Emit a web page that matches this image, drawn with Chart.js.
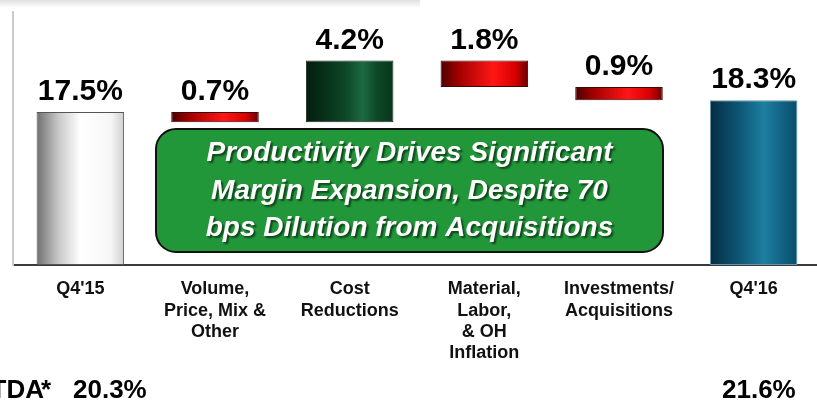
<!DOCTYPE html>
<html>
<head>
<meta charset="utf-8">
<script src="https://cdn.jsdelivr.net/npm/chart.js@4.4.1/dist/chart.umd.min.js"></script>
<style>
html, body { margin: 0; padding: 0; background: #fff; overflow: hidden; }
#wrap { position: relative; width: 825px; height: 400px; }
</style>
</head>
<body>
<div id="wrap"><canvas id="bridge"></canvas></div>
<script>
var categories = ["Q4'15", ["Volume,", "Price, Mix &", "Other"], ["Cost", "Reductions"],
                  ["Material,", "Labor,", "& OH", "Inflation"], ["Investments/", "Acquisitions"], "Q4'16"];
var changes = [17.5, -0.7, 4.2, -1.8, -0.9, 18.3];
var kinds = ['start', 'down', 'up', 'down', 'down', 'end'];
var ebitdaLabel = 'EBITDA';
var ebitdaValues = ['20.3%', '21.6%'];
var calloutLines = ['Productivity Drives Significant', 'Margin Expansion, Despite 70', 'bps Dilution from Acquisitions'];

var Y_MIN = 7.1, Y_MAX = 24.3;
var FONT = '"Liberation Sans", Arial, Helvetica, sans-serif';

// floating [from, to] ranges for the bridge
var ranges = [];
var running = 0;
changes.forEach(function(v, i) {
    if (kinds[i] == 'start' || kinds[i] == 'end') {
        ranges.push([Y_MIN, v]);
        running = v;
    } else {
        ranges.push([running, running + v]);
        running = running + v;
    }
});

var palettes = {
    start: [[0, '#6e6e6e'], [0.25, '#c8c8c8'], [0.5, '#ffffff'], [0.85, '#f6f6f6'], [1, '#cfcfcf']],
    down:  [[0, '#4a0000'], [0.2, '#a00000'], [0.6, '#ff1616'], [0.85, '#d80000'], [1, '#6a0000']],
    up:    [[0, '#021c0d'], [0.45, '#0e4727'], [0.65, '#1d6a40'], [0.8, '#0f4a28'], [1, '#08351b']],
    end:   [[0, '#052c42'], [0.3, '#0b5271'], [0.62, '#1e7fa0'], [0.85, '#0f5f80'], [1, '#0a4d6c']]
};
var borders = { start: '#555', down: '#3a0a0a', up: '#1c2a1f', end: '#6f95a5' };

function barFill(ctx) {
    var chart = ctx.chart, area = chart.chartArea;
    if (!area || !chart.scales.x || ctx.dataIndex == null) return '#888';
    var i = ctx.dataIndex;
    var cx = chart.scales.x.getPixelForValue(i);
    var half = (area.right - area.left) / categories.length * 0.65 / 2;
    var g = chart.ctx.createLinearGradient(cx - half, 0, cx + half, 0);
    palettes[kinds[i]].forEach(function(s) { g.addColorStop(s[0], s[1]); });
    return g;
}

var decorPlugin = {
    id: 'decor',
    beforeDraw: function(chart) {
        var c = chart.ctx;
        c.save();
        var g = c.createLinearGradient(0, 0, 0, 8);
        g.addColorStop(0, 'rgba(0,0,0,0.12)');
        g.addColorStop(1, 'rgba(0,0,0,0)');
        c.fillStyle = g;
        c.fillRect(0, 0, 420, 8);
        c.restore();
    },
    afterDatasetsDraw: function(chart) {
        var c = chart.ctx;
        var meta = chart.getDatasetMeta(0);
        c.save();
        c.font = 'bold 30px ' + FONT;
        c.fillStyle = '#000';
        c.textAlign = 'center';
        c.textBaseline = 'alphabetic';
        meta.data.forEach(function(bar, i) {
            var top = Math.min(bar.y, bar.base);
            c.fillText(Math.abs(changes[i]).toFixed(1) + '%', bar.x, top - 12);
        });

        // callout box
        var x0 = 156, y0 = 129, x1 = 663, y1 = 252, r = 20;
        c.beginPath();
        c.moveTo(x0 + r, y0);
        c.arcTo(x1, y0, x1, y1, r);
        c.arcTo(x1, y1, x0, y1, r);
        c.arcTo(x0, y1, x0, y0, r);
        c.arcTo(x0, y0, x1, y0, r);
        c.closePath();
        c.fillStyle = '#22973a';
        c.fill();
        c.lineWidth = 2;
        c.strokeStyle = '#111';
        c.stroke();

        c.font = 'italic bold 28px ' + FONT;
        c.fillStyle = '#fff';
        c.shadowColor = 'rgba(0,0,0,0.55)';
        c.shadowOffsetX = 2;
        c.shadowOffsetY = 2;
        c.shadowBlur = 2;
        calloutLines.forEach(function(line, k) {
            c.fillText(line, (x0 + x1) / 2, 161 + k * 37.5);
        });
        c.shadowColor = 'transparent';

        // EBITDA footer
        c.font = 'bold 26px ' + FONT;
        c.fillStyle = '#000';
        c.textAlign = 'right';
        c.fillText(ebitdaLabel, 44, 398);
        c.textAlign = 'left';
        c.fillText('*', 41, 398);
        c.fillText(ebitdaValues[0], 73, 398);
        c.fillText(ebitdaValues[1], 722, 398);
        c.restore();
    }
};

new Chart(document.getElementById('bridge'), {
    type: 'bar',
    data: {
        labels: categories,
        datasets: [{
            data: ranges,
            backgroundColor: barFill,
            borderColor: function(ctx) { return borders[kinds[ctx.dataIndex]] || '#555'; },
            borderWidth: 1,
            borderSkipped: false,
            barPercentage: 0.65,
            categoryPercentage: 1
        }]
    },
    options: {
        responsive: true,
        maintainAspectRatio: false,
        animation: false,
        layout: { padding: { left: 5, right: 4, top: 12, bottom: 0 } },
        plugins: { legend: { display: false }, tooltip: { enabled: false } },
        scales: {
            x: {
                grid: { display: false },
                border: { display: true, color: '#3a3a3a', width: 2 },
                ticks: {
                    color: '#111',
                    padding: 6,
                    maxRotation: 0,
                    autoSkip: false,
                    font: { family: FONT, size: 18, weight: 'bold', lineHeight: 1.17 }
                },
                afterFit: function(scale) { scale.height = 135; }
            },
            y: {
                min: Y_MIN,
                max: Y_MAX,
                grid: { display: false },
                border: { display: true, color: '#cccccc', width: 2 },
                ticks: { display: false }
            }
        }
    },
    plugins: [decorPlugin]
});
</script>
</body>
</html>
